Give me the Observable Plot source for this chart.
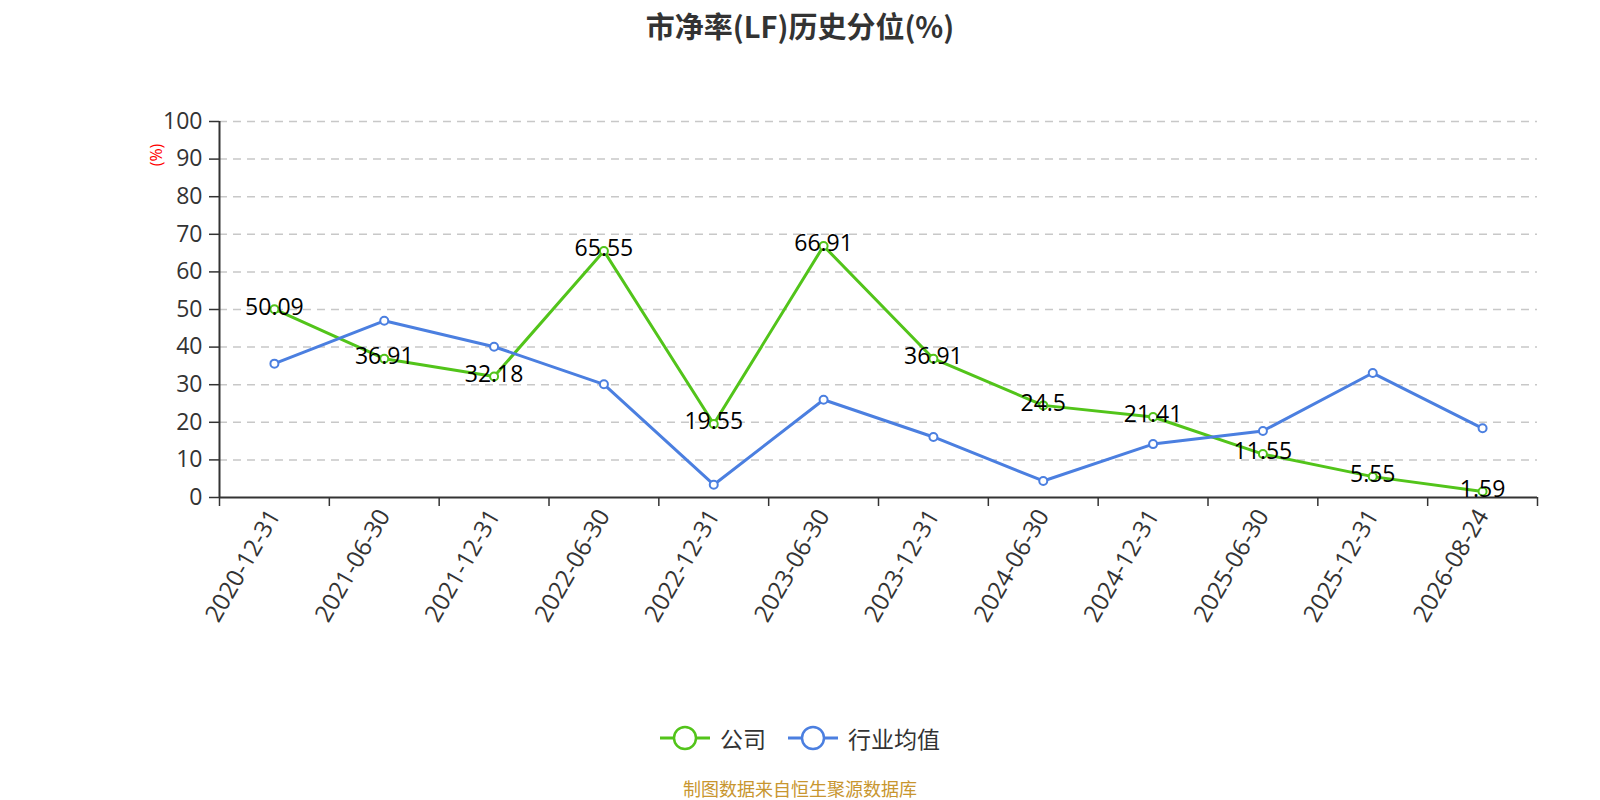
<!DOCTYPE html>
<html><head><meta charset="utf-8">
<script src="https://cdn.jsdelivr.net/npm/d3@7"></script>
<script src="https://cdn.jsdelivr.net/npm/@observablehq/plot@0.6"></script>
<style>
body{margin:0;background:#fff;font-family:"Noto Sans CJK SC","Noto Sans",sans-serif;}
#wrap{position:relative;width:1600px;height:800px;overflow:hidden;background:#fff}
#title{position:absolute;top:5px;left:0;width:1600px;text-align:center;font-size:29px;font-weight:bold;color:#333;line-height:40px}
#chart{position:absolute;top:60px;left:0}
#ylab{position:absolute;left:156px;top:155px;transform:translate(-50%,-50%) rotate(-90deg);color:red;font-size:16px;white-space:nowrap;font-family:"Open Sans","Noto Sans CJK SC",sans-serif}
#legend{position:absolute;top:721px;left:0;width:1600px;display:flex;justify-content:center;align-items:center;gap:22px;font-size:23px;color:#333}
.item{display:flex;align-items:center;gap:10px}
#source{position:absolute;top:776px;left:0;width:1600px;text-align:center;color:#c8962f;font-size:18px;line-height:24px}
</style></head>
<body>
<div id="wrap">
  <div id="title">市净率(LF)历史分位(%)</div>
  <div id="chart"></div>
  <div id="ylab">(%)</div>
  <div id="legend"></div>
  <div id="source">制图数据来自恒生聚源数据库</div>
</div>
<script>
const dates = ["2020-12-31","2021-06-30","2021-12-31","2022-06-30","2022-12-31","2023-06-30","2023-12-31","2024-06-30","2024-12-31","2025-06-30","2025-12-31","2026-08-24"];
const company = [50.09,36.91,32.18,65.55,19.55,66.91,36.91,24.5,21.41,11.55,5.55,1.59];
const industry = [35.6,47.0,40.1,30.1,3.4,26.0,16.1,4.4,14.2,17.7,33.1,18.4];
const seriesNames = ["公司","行业均值"];
const colors = ["#52c41a","#4b7fe0"];
const yTicks = d3.range(0,101,10);

const idx = d3.range(dates.length);
const rows = idx.map(i => ({i, date: dates[i], company: company[i], industry: industry[i]}));
const xDomain = [-0.5, dates.length - 0.5];
const bounds = d3.range(dates.length + 1).map(i => i - 0.5);
const yDomain = [0, 100];

const chart = Plot.plot({
  width: 1600, height: 640,
  marginLeft: 219, marginRight: 63, marginTop: 61, marginBottom: 203,
  x: {type: "linear", domain: xDomain},
  y: {domain: yDomain},
  style: {fontFamily: '"Open Sans","Noto Sans CJK SC",sans-serif', fontSize: "23px", color: "#333", background: "white"},
  marks: [
    Plot.gridY(yTicks.filter(t => t > 0), {stroke: "#c8c8c8", strokeOpacity: 1, strokeWidth: 1.5, strokeDasharray: "8,6"}),
    Plot.axisY(yTicks, {tickSize: 10, tickPadding: 7, fontSize: 23, label: null, strokeWidth: 1.5}),
    Plot.axisX(bounds, {tickSize: 9, tickFormat: () => "", label: null, strokeWidth: 1.5}),
    Plot.axisX(idx, {tickSize: 0, tickFormat: i => dates[i], tickRotate: -60, tickPadding: 14, fontSize: 24, label: null}),
    Plot.ruleX([xDomain[0]], {stroke: "#333", strokeWidth: 2}),
    Plot.ruleY([yDomain[0]], {stroke: "#333", strokeWidth: 2}),
    Plot.line(rows, {x: "i", y: "company", stroke: colors[0], strokeWidth: 3}),
    Plot.dot(rows, {x: "i", y: "company", r: 4, fill: "white", stroke: colors[0], strokeWidth: 2}),
    Plot.line(rows, {x: "i", y: "industry", stroke: colors[1], strokeWidth: 3}),
    Plot.dot(rows, {x: "i", y: "industry", r: 4, fill: "white", stroke: colors[1], strokeWidth: 2}),
    Plot.text(rows, {x: "i", y: "company", text: d => String(d.company), fill: "black", fontSize: 23, dy: -2})
  ]
});
document.getElementById("chart").appendChild(chart);

const legend = document.getElementById("legend");
seriesNames.forEach((name, k) => {
  const item = document.createElement("div");
  item.className = "item";
  item.innerHTML = `<svg width="50" height="28"><line x1="0" y1="14" x2="50" y2="14" stroke="${colors[k]}" stroke-width="3"/><circle cx="25" cy="14" r="11" fill="white" stroke="${colors[k]}" stroke-width="2.5"/></svg><span>${name}</span>`;
  legend.appendChild(item);
});
</script>
</body></html>
